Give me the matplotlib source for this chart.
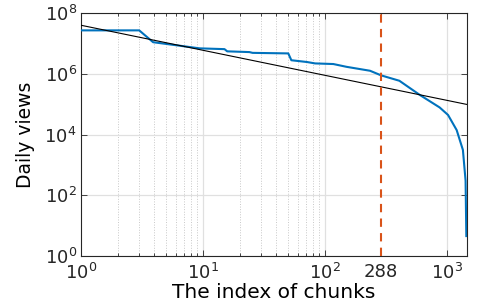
import numpy as np
import matplotlib.pyplot as plt
from matplotlib.ticker import FixedLocator, NullFormatter

plt.rcParams['font.family'] = ['DejaVu Sans']
plt.rcParams['mathtext.fontset'] = 'dejavusans'

# blue curve: chunk index vs. daily views
chunk_idx = [1, 3.0, 3.9, 9.4, 15, 15.8, 24, 25.5, 50, 53, 71, 83, 117,
             150, 234, 288, 407, 600, 870, 1020, 1200, 1350, 1420, 1440]
daily_views = [2.7e7, 2.7e7, 1.1e7, 6.9e6, 6.5e6, 5.5e6, 5.2e6, 4.9e6, 4.7e6,
               2.8e6, 2.45e6, 2.2e6, 2.1e6, 1.7e6, 1.26e6, 8.9e5, 5.9e5,
               2.0e5, 7.8e4, 4.4e4, 1.4e4, 3.1e3, 3.0e2, 4.5]

# power-law fit drawn in black
fit_coef = 10 ** 7.6
fit_exp = -0.825
fit_x = [1, 1460]

cut_idx = 288
xticks = [1, 10, 100, 288, 1000]
xticklabels = ['$10^{0}$', '$10^{1}$', '$10^{2}$', '288', '$10^{3}$']
yticks = [1, 1e2, 1e4, 1e6, 1e8]
yticklabels = ['$10^{0}$', '$10^{2}$', '$10^{4}$', '$10^{6}$', '$10^{8}$']

fig = plt.figure(figsize=(4.85, 3.05), dpi=100)
ax = fig.add_axes([0.167, 0.161, 0.796, 0.796])

ax.set_xscale('log')
ax.set_yscale('log')
ax.set_xlim(1, 1460)
ax.set_ylim(1, 1e8)

minor_x = [m * d for d in (1, 10) for m in range(2, 10)]
for mx in minor_x:
    ax.axvline(mx, color='#c8c8c8', lw=0.7, ls=':', zorder=0)
for mx in [10, 100, 1000]:
    ax.axvline(mx, color='#e0e0e0', lw=0.9, zorder=0)
for my in yticks:
    ax.axhline(my, color='#e0e0e0', lw=0.9, zorder=0)

ax.plot(chunk_idx, daily_views, color='#0072BD', lw=1.5, zorder=3)
fx = np.array(fit_x, dtype=float)
ax.plot(fx, fit_coef * fx ** fit_exp, color='black', lw=0.8, zorder=4)
ax.axvline(cut_idx, color='#D95319', lw=1.5, ls=(0, (4, 3)), zorder=5)

ax.xaxis.set_major_locator(FixedLocator(xticks))
ax.set_xticklabels(xticklabels)
ax.xaxis.set_minor_locator(FixedLocator(minor_x))
ax.xaxis.set_minor_formatter(NullFormatter())
ax.yaxis.set_major_locator(FixedLocator(yticks))
ax.set_yticklabels(yticklabels)
ax.yaxis.set_minor_locator(FixedLocator([]))

ax.tick_params(which='both', direction='in', top=True, right=True,
               colors='#262626', labelsize=13, width=0.6)
ax.tick_params(which='major', length=4)
ax.tick_params(axis='x', which='major', pad=5)
ax.tick_params(axis='y', which='major', pad=3)
ax.tick_params(which='minor', length=2)
for s in ax.spines.values():
    s.set_color('#262626')
    s.set_linewidth(0.8)

ax.set_xlabel('The index of chunks', fontsize=14.5, labelpad=0)
ax.set_ylabel('Daily views', fontsize=13.5, labelpad=7)

fig.savefig('out.png', dpi=100)
